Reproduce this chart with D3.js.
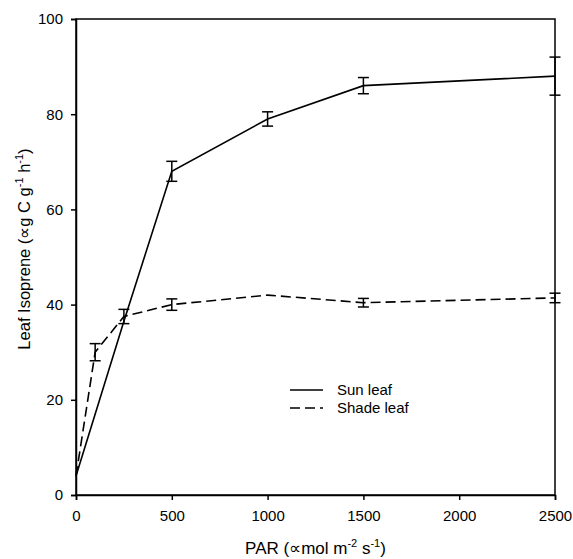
<!DOCTYPE html>
<html>
<head>
<meta charset="utf-8">
<script src="https://cdn.jsdelivr.net/npm/d3@7/dist/d3.min.js"></script>
<style>
  body { margin: 0; background: #fff; }
  text { font-family: "Liberation Sans", Arial, sans-serif; fill: #000; }
</style>
</head>
<body>
<div id="chart"></div>
<script>
// PAR values and leaf isoprene readings (with error bar half-widths)
var sunPar = [0, 250, 500, 1000, 1500, 2500];
var sunIso = [4, 36.5, 68, 79, 86, 88];
var sunErr = [0, 0, 2.1, 1.5, 1.7, 4];

var shadePar = [0, 100, 250, 500, 1000, 1500, 2500];
var shadeIso = [4, 30, 37.5, 40, 42, 40.4, 41.4];
var shadeErr = [0, 1.8, 1.5, 1.2, 0, 0.9, 1];

var xTicks = [0, 500, 1000, 1500, 2000, 2500];
var yTicks = [0, 20, 40, 60, 80, 100];

var width = 573, height = 559;
var margin = {left: 76, right: 18, top: 19, bottom: 64};

var svg = d3.select("#chart").append("svg")
    .attr("width", width).attr("height", height);

var x = d3.scaleLinear().domain([0, 2500]).range([margin.left, width - margin.right]);
var y = d3.scaleLinear().domain([0, 100]).range([height - margin.bottom, margin.top]);

// frame
svg.append("rect")
    .attr("x", x(0)).attr("y", y(100))
    .attr("width", x(2500) - x(0)).attr("height", y(0) - y(100))
    .attr("fill", "none").attr("stroke", "#000").attr("stroke-width", 1.5);

var xAxis = svg.append("g")
    .attr("transform", "translate(0," + y(0) + ")")
    .call(d3.axisBottom(x).tickValues(xTicks).tickFormat(d3.format("d")).tickSize(5).tickPadding(10));
var yAxis = svg.append("g")
    .attr("transform", "translate(" + x(0) + ",0)")
    .call(d3.axisLeft(y).tickValues(yTicks).tickFormat(d3.format("d")).tickSize(5).tickPadding(8));

[xAxis, yAxis].forEach(function(a) {
  a.select(".domain").attr("stroke-width", 1.5);
  a.selectAll(".tick line").attr("stroke-width", 1.5);
  a.selectAll(".tick text").attr("font-size", 15)
    .attr("font-family", "Liberation Sans, Arial, sans-serif");
});

function series(par, iso, err, dash) {
  var pts = par.map(function(p, i) { return {x: p, y: iso[i], e: err[i]}; });
  var line = d3.line().x(function(d) { return x(d.x); }).y(function(d) { return y(d.y); });
  svg.append("path")
      .datum(pts)
      .attr("d", line)
      .attr("fill", "none")
      .attr("stroke", "#000")
      .attr("stroke-width", 1.6)
      .attr("stroke-dasharray", dash);

  var eb = svg.append("g").selectAll("g")
      .data(pts.filter(function(d) { return d.e > 0; }))
      .enter().append("g")
      .attr("stroke", "#000").attr("stroke-width", 1.5);
  eb.append("line")
      .attr("x1", function(d) { return x(d.x); }).attr("x2", function(d) { return x(d.x); })
      .attr("y1", function(d) { return y(d.y - d.e); }).attr("y2", function(d) { return y(d.y + d.e); });
  [-1, 1].forEach(function(s) {
    eb.append("line")
        .attr("x1", function(d) { return x(d.x) - 5.5; }).attr("x2", function(d) { return x(d.x) + 5.5; })
        .attr("y1", function(d) { return y(d.y + s * d.e); }).attr("y2", function(d) { return y(d.y + s * d.e); });
  });
}

series(sunPar, sunIso, sunErr, null);
series(shadePar, shadeIso, shadeErr, "10,5");

// legend
var legend = [{name: "Sun leaf", dash: null}, {name: "Shade leaf", dash: "10,5"}];
var lg = svg.append("g").selectAll("g")
    .data(legend).enter().append("g")
    .attr("transform", function(d, i) { return "translate(290," + (390 + i * 18) + ")"; });
lg.append("line")
    .attr("x1", 0).attr("x2", 33)
    .attr("stroke", "#000").attr("stroke-width", 1.6)
    .attr("stroke-dasharray", function(d) { return d.dash; });
lg.append("text")
    .attr("x", 47).attr("dy", "0.35em")
    .attr("font-size", 15)
    .text(function(d) { return d.name; });

// axis titles
var xt = svg.append("text")
    .attr("x", (x(0) + x(2500)) / 2).attr("y", 554)
    .attr("text-anchor", "middle").attr("font-size", 17);
xt.append("tspan").text("PAR (\u221Dmol m");
xt.append("tspan").attr("dy", -7).attr("font-size", 11).text("-2");
xt.append("tspan").attr("dy", 7).text(" s");
xt.append("tspan").attr("dy", -7).attr("font-size", 11).text("-1");
xt.append("tspan").attr("dy", 7).text(")");

var yt = svg.append("text")
    .attr("transform", "translate(30," + ((y(0) + y(100)) / 2 - 8) + ") rotate(-90)")
    .attr("text-anchor", "middle").attr("font-size", 16.5);
yt.append("tspan").text("Leaf Isoprene (\u221Dg C g");
yt.append("tspan").attr("dy", -7).attr("font-size", 11).text("-1");
yt.append("tspan").attr("dy", 7).text(" h");
yt.append("tspan").attr("dy", -7).attr("font-size", 11).text("-1");
yt.append("tspan").attr("dy", 7).text(")");
</script>
</body>
</html>
